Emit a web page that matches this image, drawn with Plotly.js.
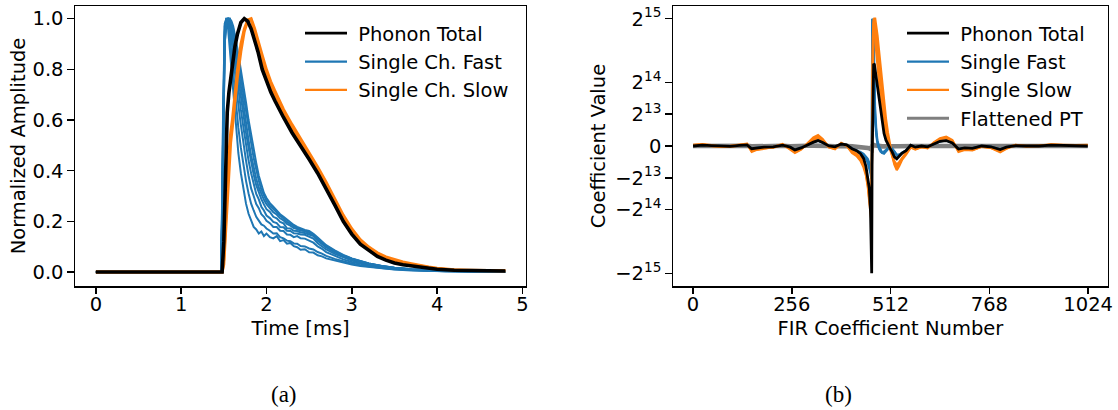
<!DOCTYPE html>
<html>
<head>
<meta charset="utf-8">
<script src="https://cdn.plot.ly/plotly-3.0.1.min.js"></script>
<style>html,body{margin:0;padding:0;background:#fff;}#chart{width:1118px;height:410px;}</style>
</head>
<body>
<div id="chart"></div>
<script>
// ---------- Panel (a): normalized pulses ----------
const timeSmooth = [0,1.48,1.50,1.52,1.54,1.56,1.58,1.60,1.63,1.66,1.70,1.74,1.78,1.82,1.86,1.90,1.95,2.00,2.05,2.10,2.15,2.20,2.30,2.40,2.50,2.60,2.70,2.80,2.90,3.00,3.10,3.20,3.30,3.40,3.50,3.60,3.70,3.80,3.90,4.00,4.20,4.40,4.60,4.80];
const phononTotalPulse = [0,0,0.12,0.42,0.63,0.71,0.77,0.82,0.89,0.94,0.985,1.0,0.99,0.96,0.92,0.87,0.80,0.75,0.71,0.675,0.64,0.61,0.55,0.50,0.445,0.39,0.33,0.265,0.20,0.15,0.11,0.085,0.062,0.047,0.036,0.029,0.024,0.018,0.014,0.011,0.007,0.005,0.004,0.004];
const slowPulseA = [0,0,0.05,0.2,0.35,0.47,0.55,0.60,0.70,0.80,0.90,0.96,0.995,1.0,0.962,0.919,0.856,0.799,0.752,0.714,0.675,0.642,0.582,0.528,0.473,0.415,0.355,0.290,0.225,0.171,0.128,0.099,0.076,0.060,0.049,0.040,0.033,0.026,0.020,0.015,0.009,0.006,0.005,0.005];
const slowPulseB = [0,0,0.03,0.15,0.3,0.42,0.51,0.57,0.67,0.77,0.87,0.95,0.99,0.995,0.95,0.898,0.832,0.778,0.734,0.697,0.66,0.628,0.568,0.516,0.461,0.404,0.344,0.279,0.214,0.162,0.12,0.093,0.07,0.055,0.043,0.035,0.029,0.022,0.017,0.013,0.008,0.006,0.005,0.005];

const timeFast = [0,1.47,1.49,1.51,1.53,1.55,1.57,1.59,1.61,1.63,1.65,1.67,1.70,1.73,1.76,1.79,1.82,1.85,1.88,1.91,1.94,1.97,2.00,2.04,2.08,2.12,2.16,2.20,2.24,2.28,2.32,2.36,2.40,2.45,2.50,2.55,2.60,2.65,2.70,2.80,2.90,3.00,3.10,3.20,3.35,3.50,3.70,3.90,4.10,4.40,4.80];
const fastPulse1 = [0,0,0.55,0.97,1.0,0.96,0.88,0.80,0.72,0.62,0.54,0.47,0.39,0.32,0.27,0.23,0.20,0.178,0.168,0.152,0.16,0.142,0.152,0.138,0.133,0.142,0.122,0.126,0.112,0.115,0.102,0.098,0.088,0.09,0.078,0.077,0.066,0.062,0.054,0.045,0.036,0.03,0.024,0.02,0.014,0.01,0.006,0.004,0.003,0.002,0.002];
const fastPulse2 = [0,0,0.6,0.98,1.0,0.98,0.93,0.86,0.78,0.70,0.63,0.57,0.49,0.42,0.36,0.31,0.27,0.243,0.218,0.203,0.188,0.183,0.172,0.163,0.152,0.153,0.138,0.133,0.124,0.122,0.113,0.112,0.103,0.101,0.093,0.089,0.079,0.073,0.064,0.052,0.042,0.034,0.027,0.022,0.016,0.011,0.007,0.005,0.003,0.002,0.002];
const fastPulse3 = [0,0,0.5,0.95,1.0,1.0,0.97,0.92,0.86,0.79,0.72,0.66,0.58,0.50,0.44,0.38,0.33,0.30,0.268,0.252,0.228,0.218,0.202,0.193,0.178,0.178,0.163,0.162,0.148,0.147,0.138,0.142,0.133,0.132,0.124,0.116,0.101,0.092,0.079,0.064,0.05,0.04,0.032,0.026,0.019,0.013,0.008,0.005,0.003,0.002,0.002];
const fastPulse4 = [0,0,0.45,0.93,0.99,1.0,0.99,0.95,0.90,0.84,0.78,0.72,0.64,0.57,0.50,0.44,0.39,0.347,0.308,0.287,0.258,0.243,0.223,0.213,0.198,0.193,0.178,0.177,0.163,0.162,0.153,0.152,0.148,0.147,0.138,0.132,0.114,0.102,0.089,0.072,0.057,0.045,0.036,0.029,0.021,0.015,0.009,0.006,0.004,0.002,0.002];
const fastPulse5 = [0,0,0.5,0.94,1.0,1.0,0.98,0.95,0.91,0.86,0.81,0.76,0.69,0.62,0.55,0.49,0.43,0.385,0.343,0.312,0.288,0.267,0.248,0.237,0.218,0.212,0.198,0.192,0.173,0.172,0.163,0.162,0.156,0.154,0.148,0.142,0.124,0.112,0.097,0.078,0.062,0.05,0.04,0.032,0.023,0.016,0.01,0.006,0.004,0.003,0.002];
const fastPulse6 = [0,0,0.42,0.92,0.99,1.0,1.0,0.97,0.94,0.90,0.85,0.80,0.73,0.66,0.59,0.52,0.46,0.41,0.368,0.333,0.308,0.285,0.268,0.252,0.236,0.227,0.212,0.204,0.19,0.183,0.174,0.17,0.163,0.162,0.153,0.146,0.13,0.116,0.101,0.082,0.065,0.052,0.041,0.033,0.024,0.017,0.011,0.007,0.004,0.003,0.002];
const fastPulse7 = [0,0,0.4,0.9,0.98,1.0,1.0,0.98,0.96,0.92,0.88,0.83,0.77,0.70,0.63,0.57,0.51,0.45,0.40,0.36,0.325,0.30,0.28,0.262,0.248,0.236,0.222,0.212,0.198,0.19,0.18,0.173,0.168,0.163,0.157,0.148,0.133,0.118,0.103,0.083,0.066,0.053,0.042,0.034,0.024,0.017,0.011,0.007,0.005,0.003,0.002];
const fastPulse8 = [0,0,0.4,0.9,0.98,1.0,1.0,0.99,0.97,0.94,0.90,0.86,0.80,0.74,0.67,0.60,0.54,0.48,0.43,0.38,0.34,0.312,0.292,0.272,0.258,0.242,0.228,0.218,0.207,0.196,0.186,0.178,0.172,0.166,0.162,0.151,0.136,0.121,0.106,0.086,0.068,0.054,0.043,0.034,0.024,0.017,0.011,0.007,0.005,0.003,0.002];
const fastPulses = [fastPulse1,fastPulse2,fastPulse3,fastPulse4,fastPulse5,fastPulse6,fastPulse7,fastPulse8];
const slowPulses = [slowPulseA, slowPulseB];

// ---------- Panel (b): FIR coefficients ----------
const firIndex = [0,24,48,72,96,120,140,152,164,184,208,232,252,264,280,296,312,324,336,352,368,384,398,412,424,434,442,448,453,457,460,462,463,464,466,468,470,472,475,478,482,486,490,495,500,505,510,516,522,528,534,542,552,564,576,592,608,624,640,656,672,688,704,724,748,772,796,812,836,864,896,928,960,992,1023];
const firPhononTotal = [0,200,100,0,-100,150,300,-700,-500,-300,-200,200,-300,-1000,-500,300,1000,1400,900,0,-200,500,300,-700,-1200,-2000,-3200,-5200,-8000,-11000,-17000,-24000,-32768,-5000,19000,21200,21000,19500,17000,15000,12000,9000,6000,3200,1500,400,-500,-1500,-2800,-3300,-2600,-1800,-1200,200,-300,0,-200,500,1200,1400,800,-800,-500,-600,0,-200,-900,-300,100,0,0,200,100,0,0];
const firSlow1 = [300,500,200,-100,0,400,600,-1500,-1000,-700,-300,500,-800,-1800,-900,700,2200,2800,1800,-300,-800,800,100,-1800,-2600,-3800,-5500,-7500,-10500,-14500,-18500,-19000,-12000,2000,20000,30000,32768,32768,31000,28500,24500,20500,16500,11500,7000,3500,500,-2500,-4800,-6200,-5200,-3500,-2200,-400,-900,-300,-600,900,2000,2400,1500,-1500,-1000,-1100,-200,-500,-1600,-700,300,-100,100,400,300,200,300];
const firSlow2 = [100,300,0,-200,-200,200,400,-1100,-800,-500,-400,300,-600,-1400,-700,400,1600,2200,1300,-200,-600,600,200,-1300,-2000,-3000,-4500,-6500,-9500,-13000,-16500,-17000,-8000,10000,28000,32768,31000,28000,24000,20500,16000,12500,9000,5500,2800,800,-1000,-2500,-4000,-4800,-4200,-3000,-1800,-200,-700,-200,-400,700,1700,2000,1200,-1200,-800,-900,-100,-400,-1300,-500,200,0,0,300,200,100,200];
const firSlow3 = [200,400,100,-100,-100,300,500,-1300,-900,-600,-300,400,-700,-1600,-800,500,1900,2500,1500,-300,-700,700,100,-1500,-2300,-3400,-5000,-7000,-10000,-13800,-17500,-18000,-10000,6000,24000,31500,32768,30500,27500,24500,20500,16500,13000,8500,4800,2000,-200,-2000,-4400,-5500,-4700,-3200,-2000,-300,-800,-250,-500,800,1800,2200,1300,-1300,-900,-1000,-150,-450,-1400,-600,250,-50,50,350,250,150,250];
const firFast1 = [0,200,100,0,-100,150,300,-650,-500,-300,-200,200,-300,-950,-500,300,950,1350,900,0,-200,450,300,-650,-1100,-1500,-2000,-2600,-3300,-4300,-6000,-7500,-6000,32768,30000,22000,12000,6000,2500,500,-800,-1500,-1800,-1500,-1000,-500,-100,-800,-1500,-2500,-2400,-1800,-1200,200,-300,0,-200,500,1200,1400,800,-800,-500,-600,0,-200,-900,-300,100,0,0,200,100,0,0];
const firFast2 = [50,150,100,-50,-100,100,250,-700,-450,-300,-250,150,-300,-1000,-450,250,1000,1400,850,50,-200,500,250,-700,-1300,-1900,-2600,-3300,-4500,-5800,-7200,-8500,-3000,28000,32768,26000,15000,8000,3500,1000,-500,-1300,-1800,-2000,-1500,-900,-300,-600,-1300,-2200,-2300,-1700,-1200,150,-300,50,-200,450,1150,1400,750,-800,-500,-550,0,-200,-850,-300,100,0,50,200,100,0,0];
const firFast3 = [0,250,100,0,-50,150,350,-700,-550,-300,-200,250,-350,-1000,-550,350,1050,1400,900,0,-250,500,300,-750,-1200,-1700,-2300,-3000,-3900,-5000,-6500,-7000,-2000,25000,32768,30000,19000,10000,4500,1500,0,-1000,-1600,-1800,-1400,-800,-200,-700,-1400,-2300,-2200,-1700,-1100,200,-250,0,-150,500,1200,1450,800,-750,-500,-600,50,-200,-900,-250,100,0,0,200,150,0,0];
const firFlattened = [0,50,0,-50,0,50,50,-100,-50,0,0,50,-50,-100,-50,50,100,150,100,0,-50,50,0,-100,-150,-200,-300,-400,-500,-600,-700,-800,-900,0,400,300,200,150,100,50,0,-50,-100,-100,-50,0,0,0,-50,-50,-50,0,0,0,0,0,0,50,100,100,50,-50,0,-50,0,0,-50,0,0,0,0,0,0,0,0];
const firFastSet = [firFast1, firFast2, firFast3];
const firSlowSet = [firSlow1, firSlow2, firSlow3];

const xTicksA = [0,1,2,3,4,5];
const yTicksA = [0,0.2,0.4,0.6,0.8,1.0];
const xTicksB = [0,256,512,768,1024];
const yTicksB = [-32768,-16384,-8192,0,8192,16384,32768];
const yTickTextB = ['\u22122<sup>15</sup>','\u22122<sup>14</sup>','\u22122<sup>13</sup>','0','2<sup>13</sup>','2<sup>14</sup>','2<sup>15</sup>'];

const legendA = ['Phonon Total','Single Ch. Fast','Single Ch. Slow'];
const legendB = ['Phonon Total','Single Fast','Single Slow','Flattened PT'];

const C_BLACK = '#000000', C_BLUE = '#1f77b4', C_ORANGE = '#ff7f0e', C_GRAY = '#7f7f7f';
const PAD = '\u00a0';

const traces = [];
// Panel (a)
fastPulses.forEach(v => traces.push({x: timeFast, y: v, xaxis:'x', yaxis:'y', mode:'lines', line:{color:C_BLUE, width:2}, showlegend:false, hoverinfo:'skip'}));
slowPulses.forEach(v => traces.push({x: timeSmooth, y: v, xaxis:'x', yaxis:'y', mode:'lines', line:{color:C_ORANGE, width:2.9}, showlegend:false, hoverinfo:'skip'}));
traces.push({x: timeSmooth, y: phononTotalPulse, xaxis:'x', yaxis:'y', mode:'lines', line:{color:C_BLACK, width:3.6}, showlegend:false});
[[legendA[0],C_BLACK,2.8],[legendA[1],C_BLUE,2.2],[legendA[2],C_ORANGE,2.2]].forEach((e,i)=>traces.push({x:[null], y:[null], xaxis:'x', yaxis:'y', mode:'lines', name:PAD+e[0], line:{color:e[1], width:e[2]}, legend:'legend', legendrank:i+1, legendgroup:'a'+i}));

// Panel (b)
traces.push({x: firIndex, y: firFlattened, xaxis:'x2', yaxis:'y2', mode:'lines', line:{color:C_GRAY, width:4.6}, showlegend:false});
firFastSet.forEach(v => traces.push({x: firIndex, y: v, xaxis:'x2', yaxis:'y2', mode:'lines', line:{color:C_BLUE, width:2}, showlegend:false, hoverinfo:'skip'}));
firSlowSet.forEach(v => traces.push({x: firIndex, y: v, xaxis:'x2', yaxis:'y2', mode:'lines', line:{color:C_ORANGE, width:2.3}, showlegend:false, hoverinfo:'skip'}));
traces.push({x: firIndex, y: firPhononTotal, xaxis:'x2', yaxis:'y2', mode:'lines', line:{color:C_BLACK, width:2.8}, showlegend:false});
[[legendB[0],C_BLACK,2.8],[legendB[1],C_BLUE,2.2],[legendB[2],C_ORANGE,2.2],[legendB[3],C_GRAY,2.8]].forEach((e,i)=>traces.push({x:[null], y:[null], xaxis:'x2', yaxis:'y2', mode:'lines', name:PAD+e[0], line:{color:e[1], width:e[2]}, legend:'legend2', legendrank:i+1, legendgroup:'b'+i}));

const axisCommon = {ticks:'outside', ticklen:6.5, tickwidth:1.5, tickcolor:'#000', showline:true, linewidth:1.5, linecolor:'#000', mirror:true, showgrid:false, zeroline:false, tickfont:{size:19.5, color:'#000'}};
const yDom = [1-286/410, 1-6/410];

const layout = {
  width:1118, height:410,
  margin:{l:0, r:0, t:0, b:0},
  paper_bgcolor:'#fff', plot_bgcolor:'#fff',
  font:{family:'DejaVu Sans, sans-serif', size:19.5, color:'#000'},
  showlegend:true,
  xaxis: Object.assign({}, axisCommon, {domain:[75.4/1118, 525.8/1118], range:[-0.24,5.04], tickvals:xTicksA, anchor:'y', ticklabelstandoff:-6, title:{text:'Time [ms]', font:{size:19.5}, standoff:6}}),
  yaxis: Object.assign({}, axisCommon, {domain:yDom, range:[-0.055,1.05], tickvals:yTicksA, tickformat:'.1f', anchor:'x', title:{text:'Normalized Amplitude', font:{size:19.5}, standoff:1}}),
  xaxis2: Object.assign({}, axisCommon, {domain:[673.3/1118, 1107.5/1118], range:[-51.15,1074.15], tickvals:xTicksB, anchor:'y2', ticklabelstandoff:-6, title:{text:'FIR Coefficient Number', font:{size:19.5}, standoff:6}}),
  yaxis2: Object.assign({}, axisCommon, {domain:yDom, range:[-36044.8,36044.8], tickvals:yTicksB, ticktext:yTickTextB, anchor:'x2', title:{text:'Coefficient Value', font:{size:19.5}, standoff:4}}),
  legend: {x:300/1118, y:1-14/410, xanchor:'left', yanchor:'top', bgcolor:'rgba(0,0,0,0)', borderwidth:0, font:{size:19.5}, itemwidth:42, tracegroupgap:0, traceorder:'normal'},
  legend2: {x:902/1118, y:1-14/410, xanchor:'left', yanchor:'top', bgcolor:'rgba(0,0,0,0)', borderwidth:0, font:{size:19.5}, itemwidth:42, tracegroupgap:0, traceorder:'normal'},
  annotations:[
    {text:'(a)', x:269/1118, y:1-394/410, xref:'paper', yref:'paper', yanchor:'middle', showarrow:false, font:{family:'Liberation Serif, serif', size:23, color:'#000'}},
    {text:'(b)', x:854/1118, y:1-394/410, xref:'paper', yref:'paper', yanchor:'middle', showarrow:false, font:{family:'Liberation Serif, serif', size:23, color:'#000'}}
  ]
};

Plotly.newPlot('chart', traces, layout, {staticPlot:true, displayModeBar:false});
</script>
</body>
</html>
